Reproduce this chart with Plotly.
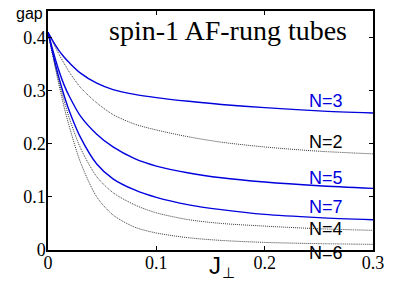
import plotly.graph_objects as go

J = [0, 0.005, 0.01, 0.015, 0.02, 0.03, 0.045, 0.06, 0.08, 0.10, 0.13, 0.16, 0.20, 0.25, 0.30]
gap_N2 = [0.41, 0.389, 0.369, 0.351, 0.334, 0.306, 0.277, 0.255, 0.237, 0.226, 0.213, 0.203, 0.194, 0.186, 0.181]
gap_N3 = [0.41, 0.392, 0.376, 0.363, 0.352, 0.333, 0.314, 0.302, 0.293, 0.287, 0.280, 0.274, 0.268, 0.262, 0.258]
gap_N4 = [0.41, 0.362, 0.318, 0.280, 0.246, 0.192, 0.138, 0.108, 0.085, 0.070, 0.057, 0.050, 0.045, 0.040, 0.037]
gap_N5 = [0.41, 0.372, 0.338, 0.310, 0.288, 0.252, 0.218, 0.194, 0.172, 0.158, 0.145, 0.136, 0.128, 0.121, 0.116]
gap_N6 = [0.41, 0.360, 0.312, 0.268, 0.230, 0.165, 0.100, 0.066, 0.043, 0.032, 0.023, 0.018, 0.0143, 0.012, 0.0106]
gap_N7 = [0.41, 0.365, 0.325, 0.290, 0.260, 0.212, 0.162, 0.134, 0.113, 0.099, 0.085, 0.076, 0.067, 0.061, 0.057]

x_ticks = [0, 0.1, 0.2, 0.3]
x_tick_labels = ["0", "0.1", "0.2", "0.3"]
y_ticks = [0, 0.1, 0.2, 0.3, 0.4]
y_tick_labels = ["0", "0.1", "0.2", "0.3", "0.4"]

BLUE = "#0000dd"
GREY = "#222222"
SANS = "Liberation Sans, Arial, sans-serif"
SERIF = "Liberation Serif, Times New Roman, serif"

series = [
    ("N=2", gap_N2, GREY, "dot"),
    ("N=4", gap_N4, GREY, "dot"),
    ("N=6", gap_N6, GREY, "dot"),
    ("N=3", gap_N3, BLUE, "solid"),
    ("N=5", gap_N5, BLUE, "solid"),
    ("N=7", gap_N7, BLUE, "solid"),
]

fig = go.Figure()
for name, vals, col, style in series:
    if style == "dot":
        line = dict(color=col, width=0.9, dash="1px,1px", shape="spline", smoothing=0.8)
    else:
        line = dict(color=col, width=1.4, shape="spline", smoothing=0.8)
    fig.add_trace(go.Scatter(x=J, y=vals, mode="lines", name=name, line=line,
                             showlegend=False, hoverinfo="skip"))

# plot area at x 48..378, y 9..250 of the 393x283 page
PX0, PY0, PW, PH = 48, 9, 330, 241


def px_to_paper(xp, yp):
    return (xp - PX0) / PW, 1 - (yp - PY0) / PH


label_pos = [
    ("N=3", 100, BLUE),
    ("N=2", 141, "black"),
    ("N=5", 177, BLUE),
    ("N=7", 207, BLUE),
    ("N=4", 229, "black"),
    ("N=6", 253, "black"),
]
for txt, ypx, col in label_pos:
    xp, yp = px_to_paper(330, ypx)
    fig.add_annotation(x=xp, y=yp, xref="paper", yref="paper", text=txt, showarrow=False,
                       font=dict(family=SANS, size=18, color=col),
                       xanchor="center", yanchor="middle")

xp, yp = px_to_paper(231, 29)
fig.add_annotation(x=xp, y=yp, xref="paper", yref="paper",
                   text="spin-1 AF-rung tubes", showarrow=False,
                   font=dict(family=SERIF, size=28, color="black"),
                   xanchor="center", yanchor="middle")
xp, yp = px_to_paper(29, 12)
fig.add_annotation(x=xp, y=yp, xref="paper", yref="paper",
                   text="gap", showarrow=False,
                   font=dict(family=SANS, size=16, color="black"),
                   xanchor="center", yanchor="middle")
xp, yp = px_to_paper(218, 266)
fig.add_annotation(x=xp, y=yp, xref="paper", yref="paper",
                   text="J", showarrow=False,
                   font=dict(family=SANS, size=24, color="black"),
                   xanchor="center", yanchor="middle")
xp, yp = px_to_paper(231, 273)
fig.add_annotation(x=xp, y=yp, xref="paper", yref="paper",
                   text="⊥", showarrow=False,
                   font=dict(family=SANS, size=15, color="black"),
                   xanchor="center", yanchor="middle")

axis_common = dict(showgrid=False, zeroline=False, showline=True, linecolor="black",
                   linewidth=1.5, mirror="ticks", ticks="inside", ticklen=4,
                   tickcolor="black", tickwidth=1,
                   tickfont=dict(family=SERIF, size=18, color="black"))
fig.update_xaxes(range=[0, 0.3], tickvals=x_ticks, ticktext=x_tick_labels,
                 ticklabelstandoff=-4, **axis_common)
fig.update_yaxes(range=[0, 0.45], tickvals=y_ticks, ticktext=y_tick_labels,
                 ticklabelstandoff=-3, **axis_common)

fig.update_layout(width=393, height=283, margin=dict(l=48, r=15, t=9, b=33),
                  paper_bgcolor="white", plot_bgcolor="white")

fig.write_html("out.html", config={"displayModeBar": False},
               post_script="document.body.style.margin='0';")
